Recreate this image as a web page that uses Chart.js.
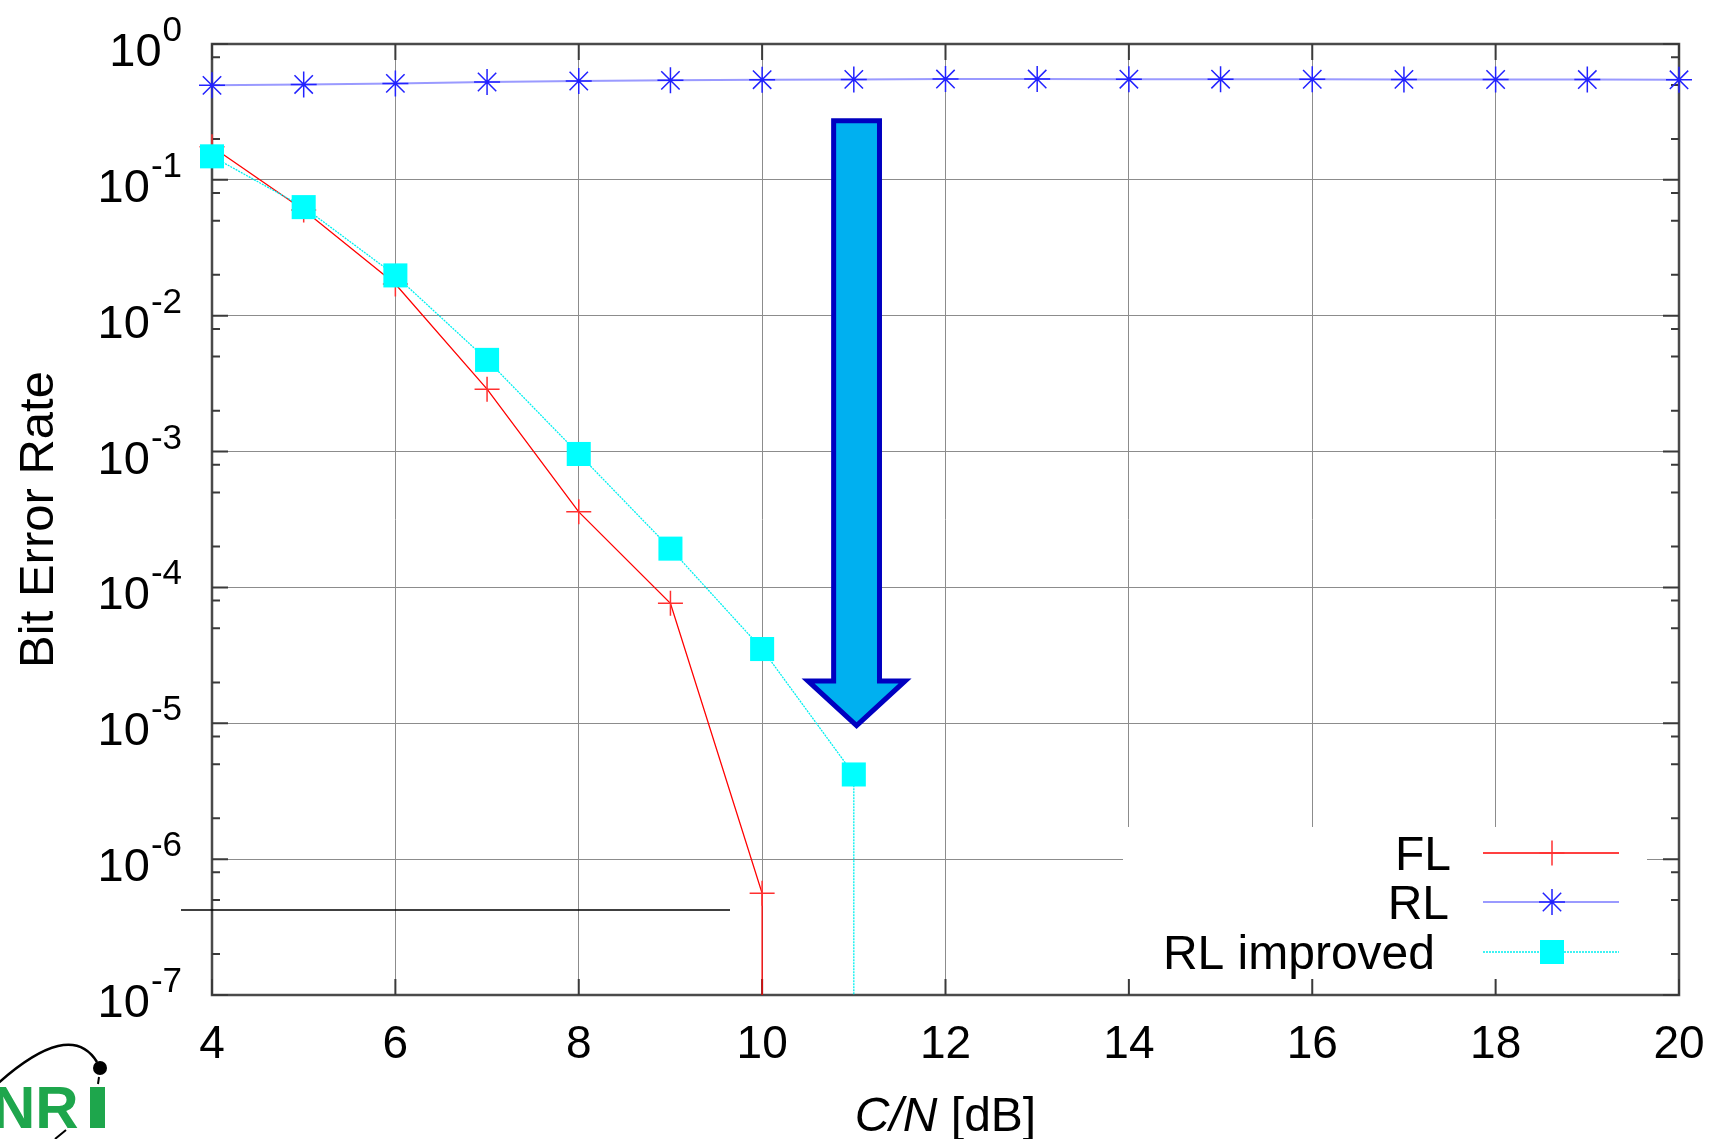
<!DOCTYPE html>
<html>
<head>
<meta charset="utf-8">
<script src="https://cdn.jsdelivr.net/npm/chart.js@4.4.1/dist/chart.umd.min.js"></script>
<style>
  body { margin: 0; background: #fff; }
  #wrap { width: 1713px; height: 1139px; position: relative; }
</style>
</head>
<body>
<div id="wrap"><canvas id="js--ber"></canvas></div>
<script>
// values. 0 = no errors counted, drawn down to the axis floor
const cnFL = [4, 5, 6, 7, 8, 9, 10, 10];
const berFL = [0.175, 0.06, 0.0171, 0.00288, 3.6e-4, 7.65e-5, 5.6e-7, 0];

const cnRL = [4, 5, 6, 7, 8, 9, 10, 11, 12, 13, 14, 15, 16, 17, 18, 19, 20];
const berRL = [0.496, 0.504, 0.513, 0.525, 0.534, 0.54, 0.546, 0.549, 0.552, 0.552, 0.551, 0.551, 0.55, 0.549, 0.548, 0.547, 0.545];

const cnRLi = [4, 5, 6, 7, 8, 9, 10, 11, 11];
const berRLi = [0.149, 0.063, 0.0198, 0.00473, 9.6e-4, 1.93e-4, 3.52e-5, 4.2e-6, 0];

const seriesNames = ['FL', 'RL', 'RL improved'];
const xTicks = [4, 6, 8, 10, 12, 14, 16, 18, 20];
const yExps = [0, -1, -2, -3, -4, -5, -6, -7];
const yMinor = [2, 5, 8];

const FONT = '"Liberation Sans", Arial, sans-serif';
const berFloor = Math.pow(10, Math.min(...yExps));

function toPoints(xs, ys) {
  return xs.map((x, i) => ({ x: x, y: ys[i] > 0 ? ys[i] : berFloor }));
}
function hideFloor(r) {
  return ctx => (ctx.raw && ctx.raw.y === berFloor ? 0 : r);
}

// big arrow, in data units (C/N, BER)
const arrow = { top: 0.272, neck: 2.05e-5, tip: 9.6e-6, shaft: [10.78, 11.28], head: [10.5, 11.56], at: 11.03 };

const decor = {
  id: 'decor',
  beforeDatasetsDraw(chart) {
    const ctx = chart.ctx, a = chart.chartArea;
    const xs = chart.scales.x, ys = chart.scales.y;
    ctx.save();
    // legend background
    ctx.fillStyle = '#fff';
    ctx.fillRect(a.right - 556, a.bottom - 168, 524, 168);

    // frame
    ctx.strokeStyle = '#4a4a4a';
    ctx.lineWidth = 2.5;
    ctx.strokeRect(a.left, a.top, a.right - a.left, a.bottom - a.top);

    // ticks
    ctx.lineWidth = 2;
    ctx.strokeStyle = '#3a3a3a';
    ctx.beginPath();
    xTicks.forEach(v => {
      const px = xs.getPixelForValue(v);
      ctx.moveTo(px, a.bottom); ctx.lineTo(px, a.bottom - 16);
      ctx.moveTo(px, a.top); ctx.lineTo(px, a.top + 16);
    });
    yExps.forEach(e => {
      const py = ys.getPixelForValue(Math.pow(10, e));
      ctx.moveTo(a.left, py); ctx.lineTo(a.left + 16, py);
      ctx.moveTo(a.right, py); ctx.lineTo(a.right - 16, py);
      if (e > Math.min(...yExps)) {
        yMinor.forEach(m => {
          const my = ys.getPixelForValue(m * Math.pow(10, e - 1));
          ctx.moveTo(a.left, my); ctx.lineTo(a.left + 8, my);
          ctx.moveTo(a.right, my); ctx.lineTo(a.right - 8, my);
        });
      }
    });
    ctx.stroke();
    ctx.restore();
  },
  afterDatasetsDraw(chart) {
    const ctx = chart.ctx, a = chart.chartArea;
    const xs = chart.scales.x, ys = chart.scales.y;
    ctx.save();

    // arrow
    const X = v => xs.getPixelForValue(v), Y = v => ys.getPixelForValue(v);
    ctx.beginPath();
    ctx.moveTo(X(arrow.shaft[0]), Y(arrow.top));
    ctx.lineTo(X(arrow.shaft[1]), Y(arrow.top));
    ctx.lineTo(X(arrow.shaft[1]), Y(arrow.neck));
    ctx.lineTo(X(arrow.head[1]), Y(arrow.neck));
    ctx.lineTo(X(arrow.at), Y(arrow.tip));
    ctx.lineTo(X(arrow.head[0]), Y(arrow.neck));
    ctx.lineTo(X(arrow.shaft[0]), Y(arrow.neck));
    ctx.closePath();
    ctx.fillStyle = '#00b0f0';
    ctx.fill();
    ctx.lineWidth = 5;
    ctx.lineJoin = 'miter';
    ctx.strokeStyle = '#0000c0';
    ctx.stroke();

    // legend
    const rows = [a.bottom - 142, a.bottom - 93, a.bottom - 43];
    const textRight = [a.right - 228, a.right - 230, a.right - 244];
    ctx.font = '48px ' + FONT;
    ctx.textAlign = 'right';
    ctx.textBaseline = 'alphabetic';
    chart.data.datasets.forEach((ds, i) => {
      const y = rows[i];
      ctx.fillStyle = '#000';
      ctx.fillText(ds.label, textRight[i], y + 17);
      ctx.beginPath();
      ctx.setLineDash(ds.borderDash || []);
      ctx.strokeStyle = ds.borderColor;
      ctx.lineWidth = ds.borderWidth;
      ctx.moveTo(a.right - 196, y); ctx.lineTo(a.right - 60, y);
      ctx.stroke();
      ctx.setLineDash([]);
      ctx.strokeStyle = ds.pointBorderColor;
      ctx.fillStyle = ds.pointBackgroundColor;
      ctx.lineWidth = ds.pointBorderWidth;
      Chart.helpers.drawPoint(ctx, { pointStyle: ds.pointStyle, radius: ds.legendRadius, rotation: 0, borderWidth: ds.pointBorderWidth }, a.right - 127, y);
    });
    ctx.restore();
  },
  afterDraw(chart) {
    const ctx = chart.ctx, a = chart.chartArea;
    const xs = chart.scales.x, ys = chart.scales.y;
    ctx.save();
    ctx.fillStyle = '#000';
    ctx.textBaseline = 'alphabetic';

    // x tick labels
    ctx.font = '46px ' + FONT;
    ctx.textAlign = 'center';
    xTicks.forEach(v => ctx.fillText(String(v), xs.getPixelForValue(v), a.bottom + 63));

    // y tick labels 10^n
    ctx.textAlign = 'right';
    yExps.forEach(e => {
      const py = ys.getPixelForValue(Math.pow(10, e));
      const sup = e === 0 ? '0' : '-' + Math.abs(e);
      ctx.font = '35px ' + FONT;
      const w = ctx.measureText(sup).width;
      ctx.fillText(sup, a.left - 30, py - 3);
      ctx.font = '47px ' + FONT;
      ctx.fillText('10', a.left - 31 - w, py + 22);
    });

    // y title
    ctx.save();
    ctx.font = '49px ' + FONT;
    ctx.textAlign = 'center';
    ctx.translate(53, (a.top + a.bottom) / 2);
    ctx.rotate(-Math.PI / 2);
    ctx.fillText('Bit Error Rate', 0, 0);
    ctx.restore();

    // x title: C/N [dB]
    ctx.textAlign = 'left';
    ctx.font = 'italic 48px ' + FONT;
    const w1 = ctx.measureText('C/N').width;
    ctx.font = '48px ' + FONT;
    const w2 = ctx.measureText(' [dB]').width;
    const x0 = (a.left + a.right) / 2 - (w1 + w2) / 2;
    ctx.font = 'italic 48px ' + FONT;
    ctx.fillText('C/N', x0, a.bottom + 136);
    ctx.font = '48px ' + FONT;
    ctx.fillText(' [dB]', x0 + w1, a.bottom + 136);

    // stray horizontal rule left of the plot
    ctx.beginPath();
    ctx.strokeStyle = '#000';
    ctx.lineWidth = 1.5;
    ctx.moveTo(181, 910); ctx.lineTo(730, 910);
    ctx.stroke();

    // NRI logo
    ctx.fillStyle = '#1ea64c';
    ctx.font = 'bold 60px ' + FONT;
    ctx.fillText('NR', -8, 1128);
    ctx.fillRect(90, 1087, 15, 41);
    ctx.beginPath();
    ctx.strokeStyle = '#000';
    ctx.lineWidth = 2.5;
    ctx.moveTo(-5, 1086);
    ctx.quadraticCurveTo(70, 1018, 97, 1062);
    ctx.stroke();
    ctx.beginPath();
    ctx.fillStyle = '#000';
    ctx.arc(100, 1068, 7, 0, Math.PI * 2);
    ctx.fill();
    ctx.beginPath();
    ctx.lineWidth = 2;
    ctx.moveTo(99, 1077); ctx.lineTo(98, 1084);
    ctx.moveTo(55, 1139); ctx.lineTo(66, 1130);
    ctx.stroke();
    ctx.restore();
  }
};

const datasets = [
  {
    label: seriesNames[0],
    data: toPoints(cnFL, berFL),
    borderColor: '#ff0000',
    borderWidth: 1.3,
    pointStyle: 'cross',
    pointRadius: hideFloor(12.5),
    legendRadius: 12.5,
    pointBorderColor: '#ff3030',
    pointBackgroundColor: '#ff3030',
    pointBorderWidth: 1.5,
    clip: false,
    order: 2
  },
  {
    label: seriesNames[1],
    data: toPoints(cnRL, berRL),
    borderColor: '#9a9aff',
    borderWidth: 2,
    pointStyle: 'star',
    pointRadius: hideFloor(13),
    legendRadius: 13,
    pointBorderColor: '#2222ff',
    pointBackgroundColor: '#2222ff',
    pointBorderWidth: 1.5,
    clip: false,
    order: 1
  },
  {
    label: seriesNames[2],
    data: toPoints(cnRLi, berRLi),
    borderColor: '#00f0f0',
    borderWidth: 1.3,
    borderDash: [2, 1],
    pointStyle: 'rect',
    pointRadius: hideFloor(17),
    legendRadius: 17,
    pointBorderColor: '#00ffff',
    pointBackgroundColor: '#00ffff',
    pointBorderWidth: 0,
    clip: false,
    order: 0
  }
];

const config = {
  type: 'line',
  data: { datasets: datasets },
  options: {
    responsive: true,
    maintainAspectRatio: false,
    animation: false,
    layout: { padding: { top: 44, right: 34, left: 0, bottom: 0 } },
    elements: { line: { tension: 0 } },
    plugins: { legend: { display: false }, tooltip: { enabled: false } },
    scales: {
      x: {
        type: 'linear',
        min: 4,
        max: 20,
        afterBuildTicks: s => { s.ticks = xTicks.map(v => ({ value: v })); },
        afterFit: s => { s.height = 144; },
        ticks: { display: false },
        border: { display: false },
        grid: { color: '#8c8c8c', lineWidth: 1, drawTicks: false }
      },
      y: {
        type: 'logarithmic',
        min: berFloor,
        max: 1,
        afterBuildTicks: s => { s.ticks = yExps.map(e => ({ value: Math.pow(10, e) })); },
        afterFit: s => { s.width = 212; },
        ticks: { display: false },
        border: { display: false },
        grid: { color: '#8c8c8c', lineWidth: 1, drawTicks: false }
      }
    }
  },
  plugins: [decor]
};

const chart1 = new Chart(document.getElementById('js--ber'), config);
</script>
</body>
</html>
